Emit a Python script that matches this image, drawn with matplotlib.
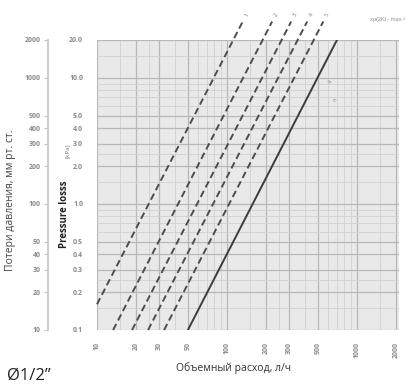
import matplotlib.pyplot as plt
import matplotlib.ticker as mticker

plt.rcParams['font.family'] = ['Open Sans', 'DejaVu Sans']

flow_ticks = [10, 20, 30, 50, 100, 200, 300, 500, 1000, 2000]
kpa_ticks = [0.1, 0.2, 0.3, 0.4, 0.5, 1.0, 2.0, 3.0, 4.0, 5.0, 10.0, 20.0]
mm_ticks = [10, 20, 30, 40, 50, 100, 200, 300, 400, 500, 1000, 2000]

# presetting curves (dashed), start / end points
dash_flow_start = [10, 13.3, 18.6, 24.7, 32.8]
dash_dp_start = [0.16, 0.1, 0.1, 0.1, 0.1]
dash_flow_end = [132, 222, 311, 413, 549]
dash_dp_end = [28, 28, 28, 28, 28]
dash_labels = ['1', '2', '3', '4', '5']

# fully open curve (solid)
solid_flow = [50, 700]
solid_dp = [0.1, 20]

fig = plt.figure(figsize=(4.06, 3.91), dpi=100)
ax = fig.add_axes([97/406, 61/391, 302/406, 290/391])
ax.set_xscale('log')
ax.set_yscale('log')
ax.set_xlim(10, 2100)
ax.set_ylim(0.1, 20)
ax.set_facecolor('#e9e9e9')
for s in ax.spines.values():
    s.set_visible(False)

ax.xaxis.set_minor_locator(mticker.LogLocator(subs=[1.5, 2, 2.5, 3, 4, 5, 6, 7, 8, 9]))
ax.yaxis.set_minor_locator(mticker.LogLocator(subs=[1.5, 2, 2.5, 3, 4, 5, 6, 7, 8, 9]))
ax.xaxis.set_minor_formatter(mticker.NullFormatter())
ax.yaxis.set_minor_formatter(mticker.NullFormatter())
ax.grid(True, which='minor', color='#d0d0d0', lw=0.6)
ax.grid(True, which='major', color='#b8b8b8', lw=0.9)
ax.set_axisbelow(True)

ax.set_xticks(flow_ticks)
ax.set_xticklabels([str(v) for v in flow_ticks], rotation=90, fontsize=5,
                   color='#8a8a8a', fontweight='bold')
ax.set_yticks(kpa_ticks)
ax.set_yticklabels([f'{v:.1f}' for v in kpa_ticks], fontsize=5,
                   color='#8a8a8a', fontweight='bold')
ax.tick_params(which='both', length=0)
ax.tick_params(axis='x', pad=9)
ax.tick_params(axis='y', pad=10)

for i in range(len(dash_labels)):
    ax.plot([dash_flow_start[i], dash_flow_end[i]], [dash_dp_start[i], dash_dp_end[i]],
            color='#4d4d4d', lw=1.4, ls=(0, (3.5, 2)), clip_on=False)
    ax.text(dash_flow_end[i] * 1.07, dash_dp_end[i] * 1.08, dash_labels[i],
            fontsize=4, color='#777777', ha='center', va='bottom', rotation=60)

ax.plot(solid_flow, solid_dp, color='#3c3c3c', lw=1.4)
ax.text(590, 9.0, '4', fontsize=4, color='#888888', rotation=60)
ax.text(640, 6.5, 'n', fontsize=4, color='#888888', rotation=60)
ax.text(1250, 28, 'xp(2K) - max 4', fontsize=4, color='#888888', ha='left', va='bottom')

ax.text(-0.108, 0.40, 'Pressure losss', transform=ax.transAxes, rotation=90,
        fontsize=7, fontweight='bold', color='#222222', ha='center', va='center')
ax.text(-0.098, 0.62, '[kPa]', transform=ax.transAxes, rotation=90,
        fontsize=4.5, color='#777777', ha='center', va='center')

# secondary scale in mm
ax2 = fig.add_axes([48/406, 61/391, 0.0001, 290/391])
ax2.set_yscale('log')
ax2.set_ylim(10, 2000)
ax2.set_xticks([])
for k in ['top', 'bottom', 'right']:
    ax2.spines[k].set_visible(False)
ax2.spines['left'].set_color('#c4c4c4')
ax2.spines['left'].set_linewidth(1.2)
ax2.set_yticks(mm_ticks)
ax2.set_yticklabels([str(v) for v in mm_ticks], fontsize=5, color='#8a8a8a',
                    fontweight='bold')
ax2.yaxis.set_minor_locator(mticker.NullLocator())
ax2.tick_params(axis='y', length=3, color='#c4c4c4', pad=2)

fig.text(11/406, 1 - 200/391, 'Потери давления, мм рт. ст.', rotation=90,
         fontsize=7.5, color='#444444', ha='center', va='center')
fig.text(234/406, 1 - 368/391, 'Объемный расход, л/ч', fontsize=7.5,
         color='#333333', ha='center', va='center')
fig.text(7/406, 1 - 376/391, 'Ø1/2”', fontsize=12, color='#222222',
         ha='left', va='center')

fig.savefig('out.png', dpi=100)
